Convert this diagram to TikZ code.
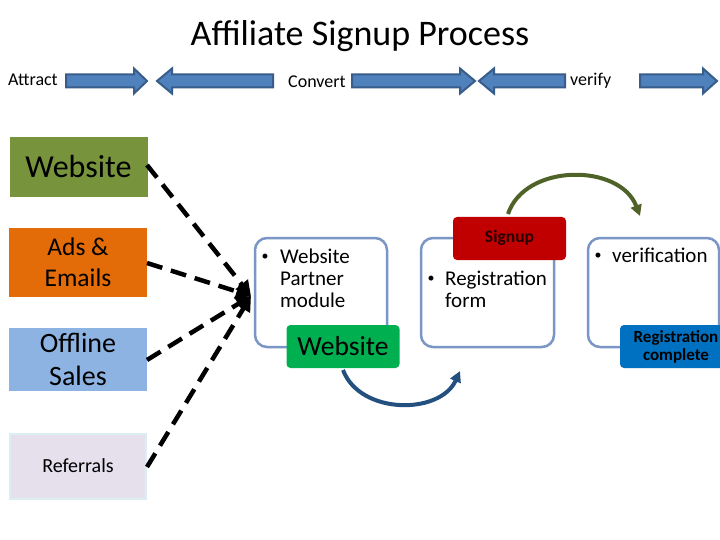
\documentclass[tikz,border=0pt]{standalone}
\usepackage{fontspec}
\setmainfont{Carlito}
\usetikzlibrary{arrows.meta}
\definecolor{olivebox}{HTML}{77933C}
\definecolor{orangebox}{HTML}{E36C09}
\definecolor{lbluebox}{HTML}{8DB3E2}
\definecolor{lavbox}{HTML}{E5E0EC}
\definecolor{lavborder}{HTML}{DAEEF3}
\definecolor{frameblue}{HTML}{7A96C6}
\definecolor{greenbox}{HTML}{00B050}
\definecolor{redbox}{HTML}{C00000}
\definecolor{bluebox}{HTML}{0070C0}
\definecolor{arrfill}{HTML}{4F81BD}
\definecolor{arrline}{HTML}{385D8A}
\definecolor{curveblue}{HTML}{23507F}
\definecolor{curvegreen}{HTML}{4F6228}
\tikzset{
  fs/.style={font=\fontsize{#1}{\fpeval{1.2*#1}}\selectfont},
  srcbox/.style={draw=none, minimum width=138, minimum height=#1, inner sep=0, align=center},
  frame/.style={draw=frameblue, line width=2.5, rounded corners=12, fill=white},
  tag/.style={rounded corners=4, inner sep=0},
  blockarr/.style={fill=arrfill, draw=arrline, line width=2},
  dashline/.style={line width=4.5, dash pattern=on 16 off 9, -{Triangle[length=15,width=15]}},
  curve/.style={line width=4, -{Triangle[length=11,width=11]}},
  lbl/.style={anchor=base west, inner sep=0},
  bul/.style={anchor=base, inner sep=0, fs=14},
}
\begin{document}
\begin{tikzpicture}[x=1pt,y=-1pt]
\useasboundingbox (0,0) rectangle (720,540);
\clip (0,0) rectangle (720,540);
\fill[white] (0,0) rectangle (720,540);

% title
\node[fs=36] (title) at (360,36) {Affiliate Signup Process};

% block arrows
\draw[blockarr] (66,74.5) -- (134,74.5) -- (134,68.5) -- (147,81) -- (134,93.5) -- (134,87.5) -- (66,87.5) -- cycle;
\draw[blockarr] (273,74.5) -- (172,74.5) -- (172,68.5) -- (157,81) -- (172,93.5) -- (172,87.5) -- (273,87.5) -- cycle;
\draw[blockarr] (352,74.5) -- (460,74.5) -- (460,68.5) -- (475,81) -- (460,93.5) -- (460,87.5) -- (352,87.5) -- cycle;
\draw[blockarr] (565,74.5) -- (494,74.5) -- (494,68.5) -- (479,81) -- (494,93.5) -- (494,87.5) -- (565,87.5) -- cycle;
\draw[blockarr] (640,74.5) -- (703,74.5) -- (703,68.5) -- (717,81) -- (703,93.5) -- (703,87.5) -- (640,87.5) -- cycle;

\node[lbl, fs=18] (attract) at (8,86) {Attract};
\node[lbl, fs=18] (convert) at (288,88) {Convert};
\node[lbl, fs=18] (verify) at (570,86) {verify};

% source boxes
\node[srcbox=60, fill=olivebox, fs=32] (web) at (78.5,167) {Website};
\node[srcbox=69, fill=orangebox, fs=25.5] (ads) at (78,262.5) {Ads \&\\Emails};
\node[srcbox=63, fill=lbluebox, fs=28] (off) at (78,359.5) {Offline\\Sales};
\node[srcbox=65, fill=lavbox, draw=lavborder, line width=2, fs=20, minimum width=136] (ref) at (78,466) {Referrals};

% dashed connectors
\coordinate (tgt) at (251,296);
\draw[dashline] (147,165) -- (tgt);
\draw[dashline] (147,263) -- (tgt);
\draw[dashline] (147,360) -- (tgt);
\draw[dashline] (147,467) -- (tgt);

% frames
\draw[frame] (255,238) rectangle (387,347);
\draw[frame] (421,238) rectangle (554,347);
\draw[frame] (588,238) rectangle (719,347);

% tags
\node[tag, fill=greenbox, minimum width=113, minimum height=43, fs=27.5] (wsm) at (343,346.5) {Website};
\node[tag, fill=redbox, minimum width=113, minimum height=43] (signup) at (509.5,238.5) {};
\node[fs=17.5, text=black!85!red] (signuptxt) at (509.5,238) {\bfseries Signup};
\node[tag, fill=bluebox, minimum width=140, minimum height=43] (regc) at (690,346.5) {};
\node[align=center, font=\fontsize{17}{18.5}\selectfont\bfseries, inner sep=0] (regctxt) at (676,347) {Registration\\complete};

% frame texts
\node[bul] (b1) at (265,260) {\textbullet};
\node[lbl, fs=21] (a1) at (280,263) {Website};
\node[lbl, fs=21] (a2) at (280,285) {Partner};
\node[lbl, fs=21] (a3) at (280,307) {module};
\node[bul] (b2) at (431,282) {\textbullet};
\node[lbl, fs=21] (c1) at (445,285) {Registration};
\node[lbl, fs=21] (c2) at (445,307) {form};
\node[bul] (b3) at (598,259) {\textbullet};
\node[lbl, fs=21] (d1) at (612,262) {verification};

% curved arrows
\coordinate (bend1) at (460,371);
\draw[curve, draw=curveblue] (343,370) .. controls (360,415) and (440,415) .. (bend1);
\coordinate (bend2) at (640,216);
\draw[curve, draw=curvegreen] (508,214) .. controls (525,163) and (620,163) .. (bend2);
\end{tikzpicture}
\end{document}
